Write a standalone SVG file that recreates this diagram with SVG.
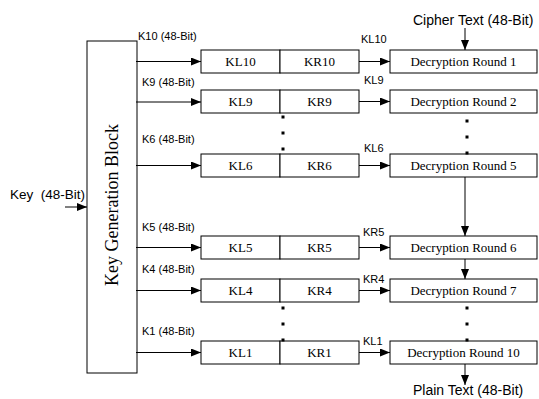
<svg xmlns="http://www.w3.org/2000/svg" width="539" height="399" viewBox="0 0 539 399">
<defs>
<marker id="ah" markerWidth="10" markerHeight="8" refX="10" refY="4" orient="auto" markerUnits="userSpaceOnUse">
<path d="M0,0 L10,4 L0,8 Z" fill="#000"/>
</marker>
<style>
.box{fill:#fff;stroke:#000;stroke-width:1}
.ln{fill:none;stroke:#000;stroke-width:1;marker-end:url(#ah)}
.sr{font-family:"Liberation Serif","Times New Roman",serif;font-size:13px;fill:#000;text-anchor:middle}
.ss{font-family:"Liberation Sans",Arial,sans-serif;font-size:11px;fill:#000}
.sl{font-family:"Liberation Sans",Arial,sans-serif;font-size:14px;fill:#000}
.dot{fill:#000}
</style>
</defs>
<rect width="539" height="399" fill="#fff"/>

<g id="keygen">
<rect class="box" x="87" y="41" width="50" height="332"/>
<text class="sr" style="font-size:18px" transform="translate(118,205) rotate(-90)">Key Generation Block</text>
</g>

<g id="row10">
<rect class="box" x="201" y="50" width="79" height="23"/><text class="sr" x="240.5" y="66">KL10</text>
<rect class="box" x="280" y="50" width="79" height="23"/><text class="sr" x="319.5" y="66">KR10</text>
</g>
<g id="row9">
<rect class="box" x="201" y="90" width="79" height="23"/><text class="sr" x="240.5" y="106">KL9</text>
<rect class="box" x="280" y="90" width="79" height="23"/><text class="sr" x="319.5" y="106">KR9</text>
</g>
<g id="row6">
<rect class="box" x="201" y="154" width="79" height="23"/><text class="sr" x="240.5" y="170">KL6</text>
<rect class="box" x="280" y="154" width="79" height="23"/><text class="sr" x="319.5" y="170">KR6</text>
</g>
<g id="row5">
<rect class="box" x="201" y="236" width="79" height="23"/><text class="sr" x="240.5" y="252">KL5</text>
<rect class="box" x="280" y="236" width="79" height="23"/><text class="sr" x="319.5" y="252">KR5</text>
</g>
<g id="row4">
<rect class="box" x="201" y="279" width="79" height="23"/><text class="sr" x="240.5" y="295">KL4</text>
<rect class="box" x="280" y="279" width="79" height="23"/><text class="sr" x="319.5" y="295">KR4</text>
</g>
<g id="row1">
<rect class="box" x="201" y="341" width="79" height="23"/><text class="sr" x="240.5" y="357">KL1</text>
<rect class="box" x="280" y="341" width="79" height="23"/><text class="sr" x="319.5" y="357">KR1</text>
</g>

<g id="dr1"><rect class="box" x="390" y="50" width="147" height="23"/><text class="sr" x="463.5" y="66">Decryption Round 1</text></g>
<g id="dr2"><rect class="box" x="390" y="90" width="147" height="23"/><text class="sr" x="463.5" y="106">Decryption Round 2</text></g>
<g id="dr5"><rect class="box" x="390" y="154" width="147" height="23"/><text class="sr" x="463.5" y="170">Decryption Round 5</text></g>
<g id="dr6"><rect class="box" x="390" y="236" width="147" height="23"/><text class="sr" x="463.5" y="252">Decryption Round 6</text></g>
<g id="dr7"><rect class="box" x="390" y="279" width="147" height="23"/><text class="sr" x="463.5" y="295">Decryption Round 7</text></g>
<g id="dr10"><rect class="box" x="390" y="341" width="147" height="23"/><text class="sr" x="463.5" y="357">Decryption Round 10</text></g>

<g id="connectors">
<line class="ln" x1="65" y1="207" x2="87" y2="207"/>
<line class="ln" x1="136" y1="61.5" x2="201" y2="61.5"/>
<line class="ln" x1="136" y1="102" x2="201" y2="102"/>
<line class="ln" x1="136" y1="165.5" x2="201" y2="165.5"/>
<line class="ln" x1="136" y1="247.5" x2="201" y2="247.5"/>
<line class="ln" x1="136" y1="290.5" x2="201" y2="290.5"/>
<line class="ln" x1="136" y1="352.5" x2="201" y2="352.5"/>
<line class="ln" x1="359" y1="61.5" x2="390" y2="61.5"/>
<line class="ln" x1="359" y1="101.5" x2="390" y2="101.5"/>
<line class="ln" x1="359" y1="165.5" x2="390" y2="165.5"/>
<line class="ln" x1="359" y1="247.5" x2="390" y2="247.5"/>
<line class="ln" x1="359" y1="290.5" x2="390" y2="290.5"/>
<line class="ln" x1="359" y1="352.5" x2="390" y2="352.5"/>
<line class="ln" x1="465" y1="28" x2="465" y2="50"/>
<line class="ln" x1="465" y1="177" x2="465" y2="236"/>
<line class="ln" x1="465" y1="259" x2="465" y2="279"/>
<line class="ln" x1="465" y1="364" x2="465" y2="385"/>
<rect class="dot" x="281.5" y="115.5" width="3" height="3"/>
<rect class="dot" x="281.5" y="131.5" width="3" height="3"/>
<rect class="dot" x="281.5" y="147.5" width="3" height="3"/>
<rect class="dot" x="281.5" y="306.5" width="3" height="3"/>
<rect class="dot" x="281.5" y="322.5" width="3" height="3"/>
<rect class="dot" x="281.5" y="338.5" width="3" height="3"/>
<rect class="dot" x="465.5" y="119.5" width="3" height="3"/>
<rect class="dot" x="465.5" y="135.5" width="3" height="3"/>
<rect class="dot" x="465.5" y="151.5" width="3" height="3"/>
<rect class="dot" x="465.5" y="306.5" width="3" height="3"/>
<rect class="dot" x="465.5" y="322.5" width="3" height="3"/>
<rect class="dot" x="465.5" y="338.5" width="3" height="3"/>
</g>

<g id="labels">
<text class="sl" x="10" y="199" style="font-size:13.5px" xml:space="preserve">Key  (48-Bit)</text>
<text class="ss" x="138" y="40">K10 (48-Bit)</text>
<text class="ss" x="142" y="86">K9 (48-Bit)</text>
<text class="ss" x="142" y="143">K6 (48-Bit)</text>
<text class="ss" x="142" y="231">K5 (48-Bit)</text>
<text class="ss" x="142" y="273">K4 (48-Bit)</text>
<text class="ss" x="142" y="335">K1 (48-Bit)</text>
<text class="ss" x="361" y="43">KL10</text>
<text class="ss" x="364" y="84">KL9</text>
<text class="ss" x="364" y="152">KL6</text>
<text class="ss" x="363" y="236">KR5</text>
<text class="ss" x="363" y="283">KR4</text>
<text class="ss" x="363" y="345">KL1</text>
<text class="sl" x="413" y="25">Cipher Text (48-Bit)</text>
<text class="sl" x="413" y="395">Plain Text (48-Bit)</text>
</g>
</svg>
